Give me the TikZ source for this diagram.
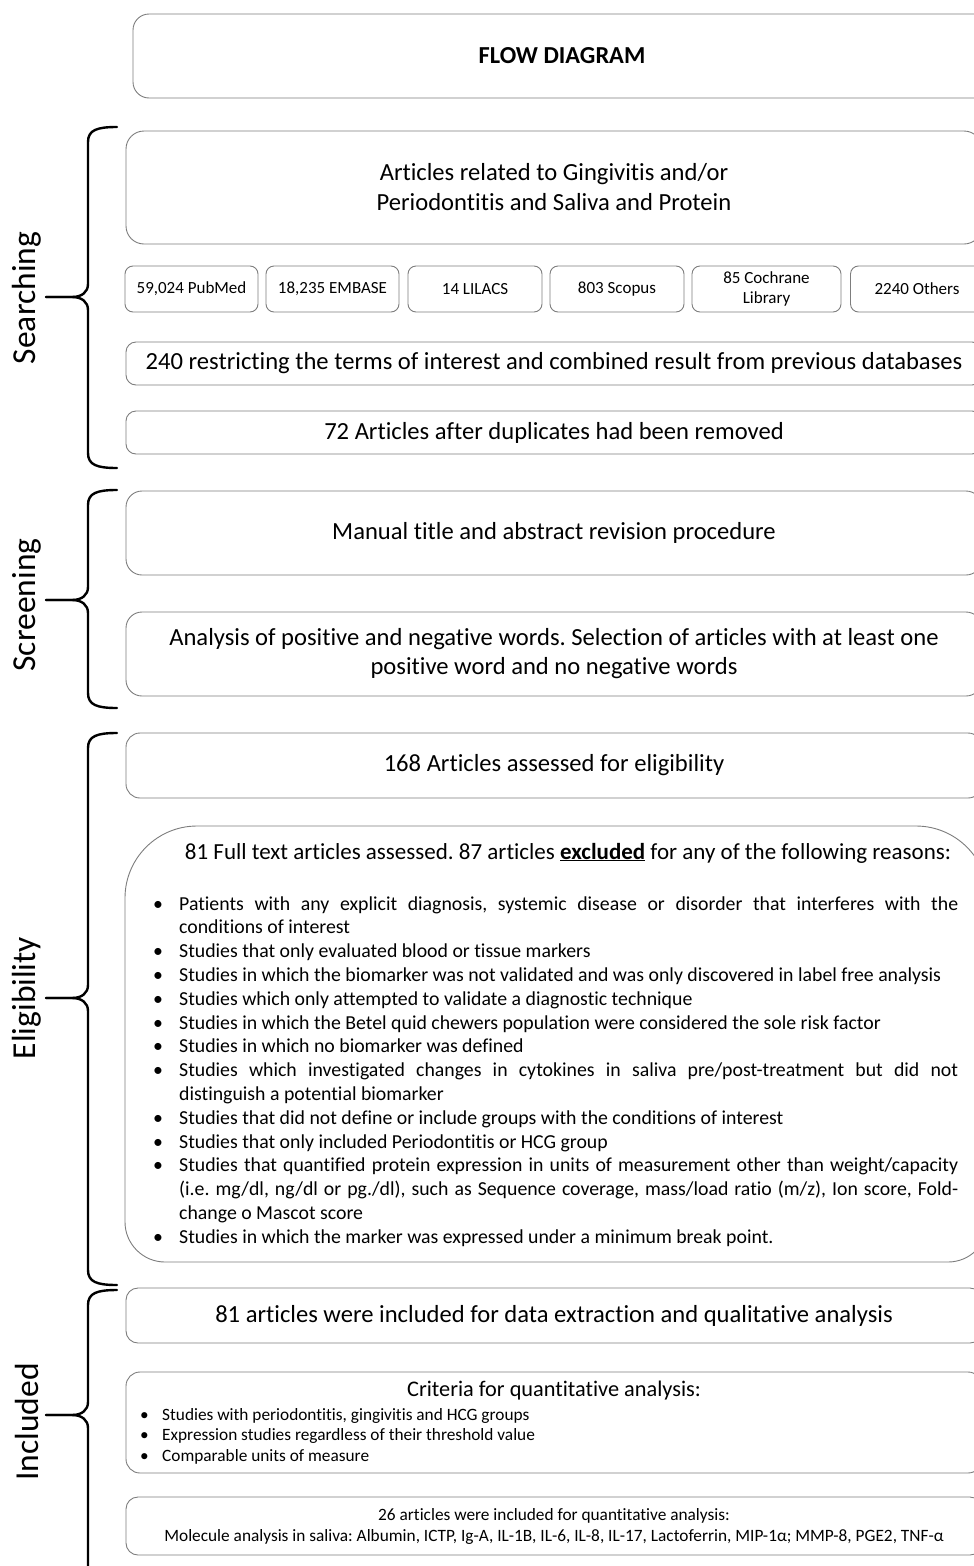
\documentclass[tikz,border=0pt]{standalone}
\usepackage{fontspec}
\setmainfont{Carlito}[Ligatures=NoCommon]
\frenchspacing
\definecolor{boxgray}{RGB}{125,125,125}
\newcommand{\bul}{\hangindent=26pt\hangafter=1\noindent\makebox[26pt][l]{•}}
\newcommand{\cbul}{\hangindent=22pt\hangafter=1\noindent\makebox[22pt][l]{•}}
\tikzset{
  box/.style={draw=boxgray, line width=0.9pt, rounded corners=14pt, align=center, inner sep=0pt},
  dbbox/.style={box, rounded corners=8pt, minimum height=46pt, font=\fontsize{17}{20}\selectfont},
  bigtext/.style={font=\fontsize{24.6}{30}\selectfont},
  brace/.style={line width=2.4pt, black, line cap=round},
  phase/.style={rotate=90, inner sep=0pt, font=\fontsize{33.5}{35}\selectfont},
  plain/.style={inner sep=0pt}
}
\begin{document}
\begin{tikzpicture}[x=1pt,y=-1pt]
\useasboundingbox (0,0) rectangle (974,1566);
\clip (0,0) rectangle (974,1566);

% title
\node[box, rounded corners=16pt, minimum width=858pt, minimum height=84pt, font=\fontsize{24.4}{26}\selectfont\bfseries] (title) at (562,56) {FLOW DIAGRAM};

% Searching
\node[box, rounded corners=18pt, minimum width=856pt, minimum height=113pt, bigtext] (art) at (554,187.5) {Articles related to Gingivitis and/or\\Periodontitis and Saliva and Protein};
\node[dbbox, minimum width=133pt] (pubmed) at (191.5,289) {59,024 PubMed};
\node[dbbox, minimum width=133pt] (embase) at (332.5,289) {18,235 EMBASE};
\node[dbbox, minimum width=134pt] (lilacs) at (475,289) {14 LILACS};
\node[dbbox, minimum width=134pt] (scopus) at (617,289) {803 Scopus};
\node[dbbox, minimum width=149pt] (cochrane) at (766.5,289) {85 Cochrane\\Library};
\node[dbbox, minimum width=133pt] (others) at (917,289) {2240 Others};
\node[box, rounded corners=10pt, minimum width=856pt, minimum height=43pt, bigtext] (r240) at (554,363.5) {240 restricting the terms of interest and combined result from previous databases};
\node[box, rounded corners=10pt, minimum width=856pt, minimum height=43pt, bigtext] (d72) at (554,432.5) {72 Articles after duplicates had been removed};

% Screening
\node[box, rounded corners=16pt, minimum width=856pt, minimum height=84pt, bigtext] (manual) at (554,533) {Manual title and abstract revision procedure};
\node[box, rounded corners=16pt, minimum width=856pt, minimum height=84pt, font=\fontsize{24.6}{29}\selectfont] (analysis) at (554,654) {Analysis of positive and negative words. Selection of articles with at least one\\positive word and no negative words};

% Eligibility
\node[box, rounded corners=14pt, minimum width=856pt, minimum height=65pt, bigtext] (a168) at (554,765.5) {168 Articles assessed for eligibility};
\draw[draw=boxgray, line width=0.9pt] (125,898) .. controls (125,858.3) and (157.3,826) .. (197,826) -- (916,826) .. controls (955.7,826) and (988,858.3) .. (988,898) -- (988,1222) .. controls (988,1244) and (970,1262) .. (948,1262) -- (165,1262) .. controls (143,1262) and (125,1244) .. (125,1222) -- cycle;
\node[plain, font=\fontsize{23}{26}\selectfont] (bighead) at (568,853) {81 Full text articles assessed. 87 articles \underline{\textbf{excluded}} for any of the following reasons:};
\node[plain, anchor=base west, font=\fontsize{19.8}{23.8}\selectfont] (reasons) at (153,910) {\parbox[t]{805pt}{%
\bul Patients with any explicit diagnosis, systemic disease or disorder that interferes with the\linebreak conditions of interest\par
\bul Studies that only evaluated blood or tissue markers\par
\bul Studies in which the biomarker was not validated and was only discovered in label free analysis\par
\bul Studies which only attempted to validate a diagnostic technique\par
\bul Studies in which the Betel quid chewers population were considered the sole risk factor\par
\bul Studies in which no biomarker was defined\par
\bul Studies which investigated changes in cytokines in saliva pre/post-treatment but did not\linebreak distinguish a potential biomarker\par
\bul Studies that did not define or include groups with the conditions of interest\par
\bul Studies that only included Periodontitis or HCG group\par
\bul Studies that quantified protein expression in units of measurement other than weight/capacity\linebreak (i.e. mg/dl, ng/dl or pg./dl), such as Sequence coverage, mass/load ratio (m/z), Ion score, Fold-\linebreak change o Mascot score\par
\bul Studies in which the marker was expressed under a minimum break point.\par}};

% Included
\node[box, rounded corners=12pt, minimum width=856pt, minimum height=55pt, bigtext] (a81) at (554,1315.5) {81 articles were included for data extraction and qualitative analysis};
\node[box, rounded corners=14pt, minimum width=856pt, minimum height=101pt] (crit) at (554,1422.5) {};
\node[plain, font=\fontsize{22.3}{24}\selectfont] (crittitle) at (554,1391) {Criteria for quantitative analysis:};
\node[plain, anchor=base west, font=\fontsize{17.3}{20.5}\selectfont] (critlist) at (140,1420) {\parbox[t]{700pt}{%
\cbul Studies with periodontitis, gingivitis and HCG groups\par
\cbul Expression studies regardless of their threshold value\par
\cbul Comparable units of measure\par}};
\node[box, rounded corners=12pt, minimum width=856pt, minimum height=58pt, font=\fontsize{17.3}{21}\selectfont] (a26) at (554,1526) {26 articles were included for quantitative analysis:\\Molecule analysis in saliva: Albumin, ICTP, Ig-A, IL-1B, IL-6, IL-8, IL-17, Lactoferrin, MIP-1α; MMP-8, PGE2, TNF-α};

% braces
\draw[brace] (117,127) .. controls (97,127) and (88,130) .. (88,142) -- (88,284) .. controls (88,292) and (82,297) .. (72,297) -- (46,297);
\draw[brace] (46,297) -- (72,297) .. controls (82,297) and (88,302) .. (88,310) -- (88,453) .. controls (88,465) and (97,468) .. (117,468);
\draw[brace] (117,490) .. controls (97,490) and (88,493) .. (88,505) -- (88,587) .. controls (88,595) and (82,600) .. (72,600) -- (46,600);
\draw[brace] (46,600) -- (72,600) .. controls (82,600) and (88,605) .. (88,613) -- (88,693) .. controls (88,705) and (97,708) .. (117,708);
\draw[brace] (117,733) .. controls (97,733) and (88,736) .. (88,748) -- (88,985) .. controls (88,993) and (82,998) .. (72,998) -- (46,998);
\draw[brace] (46,998) -- (72,998) .. controls (82,998) and (88,1003) .. (88,1011) -- (88,1270) .. controls (88,1282) and (97,1285) .. (117,1285);
\draw[brace] (117,1290) .. controls (97,1290) and (88,1293) .. (88,1305) -- (88,1402) .. controls (88,1410) and (82,1415) .. (72,1415) -- (46,1415);
\draw[brace] (46,1415) -- (72,1415) .. controls (82,1415) and (88,1420) .. (88,1428) -- (88,1580);

\node[phase] (lsearch) at (27,298) {Searching};
\node[phase] (lscreen) at (27,605) {Screening};
\node[phase] (lelig) at (27,998) {Eligibility};
\node[phase] (lincl) at (27,1422) {Included};
\end{tikzpicture}
\end{document}
